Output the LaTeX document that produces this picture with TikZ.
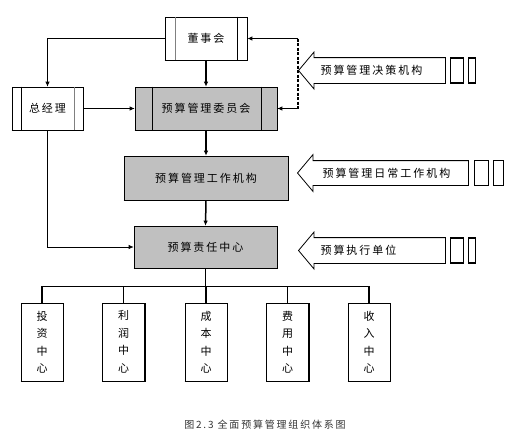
\documentclass[tikz,border=0pt]{standalone}
\usepackage{fontspec}
\newfontfamily\cjk[LetterSpace=18]{Noto Sans CJK SC}
\usetikzlibrary{positioning,shapes.arrows,arrows.meta}
\definecolor{boxgray}{RGB}{192,192,192}

\begin{document}
\begin{tikzpicture}[
    x=1pt, y=-1pt,
    every node/.style={font=\cjk\fontsize{11}{13}\selectfont},
    >={Latex[length=5pt,width=4.5pt]},
    orgbox/.style={draw=black, line width=0.6pt, fill=white, inner sep=0pt, minimum height=43pt},
    graybox/.style={orgbox, fill=boxgray},
    unitbox/.style={orgbox, minimum width=42pt, minimum height=78pt,
        font=\cjk\fontsize{11}{17.5}\selectfont, align=center},
    blockarrow/.style={single arrow, shape border rotate=180, draw=black, line width=0.8pt,
        fill=white, single arrow head extend=5.5pt, single arrow tip angle=100,
        inner xsep=0pt, inner ysep=12.5pt, anchor=tip},
    tailbar/.style={draw=black, line width=1.2pt, inner sep=0pt, minimum height=25pt},
]
\useasboundingbox (0,0) rectangle (515,442);

% === Decision level ===
\node[orgbox, minimum width=82pt] (board) at (206,38.5) {董事会};
\node[orgbox, minimum width=71pt] (gm) at (47.5,108.5) {总经理};
\node[graybox, minimum width=142pt] (comm) at (206,108.5) {预算管理委员会};

% inner edges of the framed boxes
\draw[gray] ([xshift=10pt]board.north west) -- ([xshift=10pt]board.south west);
\draw ([xshift=-10pt]board.north east) -- ([xshift=-10pt]board.south east);
\draw ([xshift=9pt]gm.north west) -- ([xshift=9pt]gm.south west);
\draw[gray] ([xshift=-9pt]gm.north east) -- ([xshift=-9pt]gm.south east);
\draw ([xshift=17pt]comm.north west) -- ([xshift=17pt]comm.south west);
\draw ([xshift=-16pt]comm.north east) -- ([xshift=-16pt]comm.south east);

% === Working and executing level ===
\node[graybox, minimum width=164pt, minimum height=44pt] (work) at (206,178) {预算管理工作机构};
\node[graybox, minimum width=143pt, minimum height=42pt] (resp) at (205.5,247) {预算责任中心};

% === Responsibility centres ===
\node[unitbox] (inv) at (42,342) {投\\资\\中\\心};
\node[unitbox] (prof) at (123.5,342) {利\\润\\中\\心};
\node[unitbox] (cost) at (206,342) {成\\本\\中\\心};
\node[unitbox] (exp) at (287.5,342) {费\\用\\中\\心};
\node[unitbox] (rev) at (369,342) {收\\入\\中\\心};

% heavier bottom and right edges
\foreach \n in {board,gm,comm,work,resp,inv,prof,cost,exp,rev}
    \draw[line width=1.5pt] (\n.south west) -- (\n.south east) -- (\n.north east);

% === Connectors ===
\draw[->, line width=0.8pt] (board.west) -| (gm.north);
\draw[->, line width=1.5pt] (board.south) -- (comm.north);
\draw[->, line width=0.8pt] (gm.east) -- (comm.west);
\draw[->, line width=1.5pt] (comm.south) -- (work.north);
\draw[->, line width=1.5pt] (work.south) -- (resp.north);
\draw[->, line width=0.8pt] (gm.south) |- (resp.west);
\foreach \n in {inv,prof,cost,exp,rev}
    \draw[line width=1.5pt] (resp.south) -- ++(0,18) -| (\n.north);

% dashed feedback line
\coordinate (dtop) at (298,38.5);
\coordinate (dbot) at (298,108.5);
\draw[->, line width=1.5pt] (dtop) -- (board.east);
\draw[line width=2pt, dash pattern=on 3pt off 1.5pt] (dtop) -- (dbot);
\draw[->, line width=0.8pt] (dbot) -- (comm.east);

% === Level arrows ===
\node[blockarrow, minimum height=147pt] (dec) at (298,70.5) {};
\node[anchor=west] (decT) at ([xshift=19pt]dec.tip) {预算管理决策机构};
\node[tailbar, minimum width=13pt, right=4pt of dec.tail] (decA) {};
\node[tailbar, minimum width=7pt, right=4pt of decA] (decB) {};

\node[blockarrow, minimum height=171pt, inner ysep=12pt, single arrow head extend=6pt] (daily) at (297,173) {};
\node[anchor=west] (dailyT) at ([xshift=22pt]daily.tip) {预算管理日常工作机构};
\node[tailbar, minimum width=14pt, right=5pt of daily.tail] (dailyA) {};
\node[tailbar, minimum width=10pt, right=4pt of dailyA] (dailyB) {};

\node[blockarrow, minimum height=147pt] (exec) at (298,250.5) {};
\node[anchor=west] (execT) at ([xshift=19pt]exec.tip) {预算执行单位};
\node[tailbar, minimum width=13pt, right=4pt of exec.tail] (execA) {};
\node[tailbar, minimum width=7pt, right=4pt of execA] (execB) {};

% === Caption ===
\node[font=\cjk\fontsize{10}{12}\selectfont, text=black!80] (cap) at (265,425) {图2.3 全面预算管理组织体系图};

\end{tikzpicture}
\end{document}
